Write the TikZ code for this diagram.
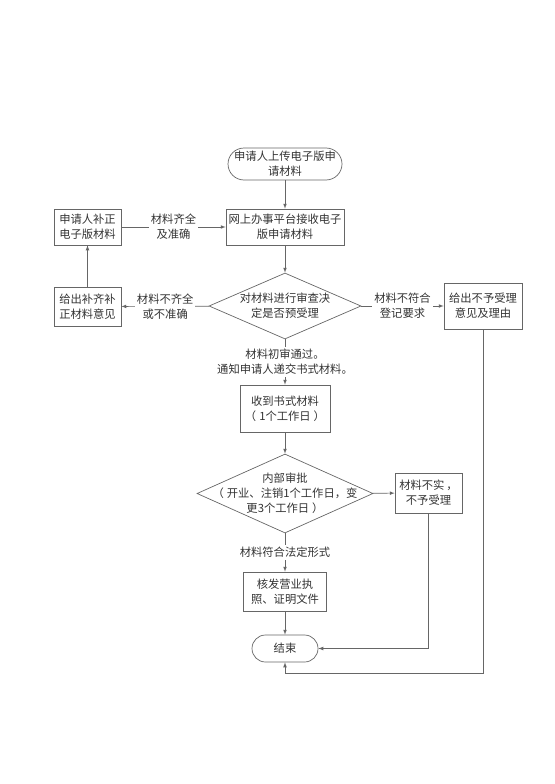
\documentclass[tikz,border=0pt]{standalone}
\usepackage{fontspec}
\newfontfamily\cjk{Noto Sans CJK SC}
\usetikzlibrary{shapes.geometric}

\tikzset{
  every node/.style={font=\cjk\fontsize{11.3}{15}\selectfont, text=black!80, align=center, inner sep=0pt},
  box/.style={draw=black!60, fill=white, line width=0.7pt},
  term/.style={box, rounded corners=#1},
  decision/.style={diamond, draw=black!60, line width=0.7pt},
  elabel/.style={fill=white, inner sep=2pt},
  arr/.style={-latex, draw=black!60, line width=0.7pt}
}

\begin{document}
\begin{tikzpicture}[x=1pt,y=-1pt]
  \useasboundingbox (0,0) rectangle (554,784);

  \node[term=16pt, minimum width=114pt, minimum height=32pt] (start) at (285,164) {申请人上传电子版申\\请材料};
  \node[box, minimum width=118pt, minimum height=36pt] (platform) at (285,227) {网上办事平台接收电子\\版申请材料};
  \node[box, minimum width=67pt, minimum height=36pt] (fix) at (87.5,227) {申请人补正\\电子版材料};
  \node[decision, minimum width=152pt, minimum height=66pt, label={center:对材料进行审查决\\定是否预受理}] (check) at (285,306) {};
  \node[box, minimum width=67pt, minimum height=39pt] (advice) at (87.5,306.5) {给出补齐补\\正材料意见};
  \node[box, minimum width=78pt, minimum height=46pt] (reject) at (483,306) {给出不予受理\\意见及理由};
  \node[box, minimum width=90pt, minimum height=47pt] (paper) at (285,408.5) {收到书式材料\\（\hspace{3pt}1个工作日\hspace{3pt}）};
  \node[decision, minimum width=176pt, minimum height=79pt, label={center:内部审批\\（\hspace{3pt}开业、注销1个工作日，变\\更3个工作日\hspace{3pt}）}] (approve) at (285,493.5) {};
  \node[box, minimum width=67pt, minimum height=40pt] (false) at (428.5,493) {材料不实\hspace{2pt}，\\不予受理};
  \node[box, minimum width=83pt, minimum height=39pt] (issue) at (285,591.5) {核发营业执\\照、证明文件};
  \node[term=13.5pt, minimum width=66pt, minimum height=27pt] (end) at (285,648.5) {结束};
  \coordinate (endbelow) at (285,673);

  \draw[arr] (start) -- (platform);
  \draw[arr] (fix) -- node[elabel] (fixlabel) {材料齐全\\及准确} (platform);
  \draw[arr] (platform) -- (check);
  \draw[arr] (check) -- node[elabel] (advicelabel) {材料不齐全\\或不准确} (advice);
  \draw[arr] (advice) -- (fix);
  \draw[arr] (check) -- node[elabel] (rejectlabel) {材料不符合\\登记要求} (reject);
  \draw[arr] (check) -- node[elabel] (paperlabel) {材料初审通过。\\通知申请人递交书式材料。} (paper);
  \draw[arr] (paper) -- (approve);
  \draw[arr] (approve) -- (false);
  \draw[arr] (approve) -- node[elabel] (issuelabel) {材料符合法定形式} (issue);
  \draw[arr] (issue) -- (end);
  \draw[arr] (false.south) |- (end.east);
  \draw[arr] (reject.south) |- (endbelow) -- (end.south);
\end{tikzpicture}
\end{document}
